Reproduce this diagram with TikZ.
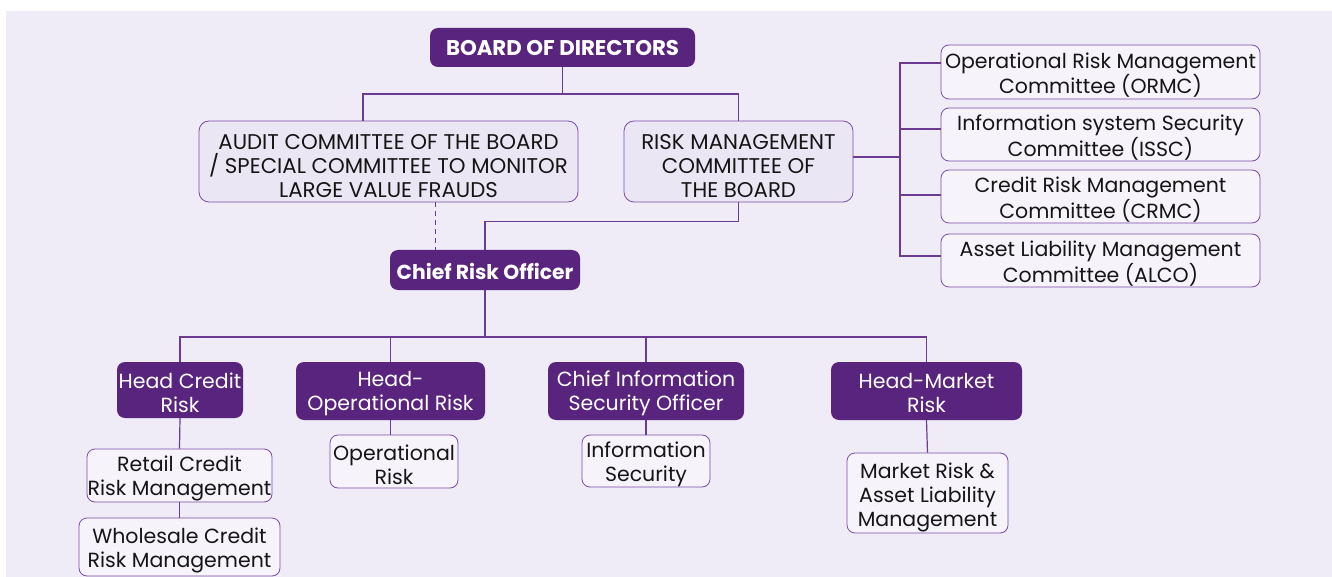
\documentclass[tikz,border=0pt]{standalone}
\usepackage{fontspec}
\setmainfont{Poppins}
\definecolor{bgl}{HTML}{F0ECF7}
\definecolor{dpurple}{HTML}{58247E}
\definecolor{lfill}{HTML}{F6F3FB}
\definecolor{cfill}{HTML}{EBE6F3}
\definecolor{bstroke}{HTML}{7A4CA5}
\definecolor{lcol}{HTML}{6B3A95}
\definecolor{txt}{HTML}{151515}
\begin{document}
\begin{tikzpicture}[x=1pt,y=-1pt,
  every node/.style={inner sep=0pt, align=center, font=\fontsize{20.5}{24}\selectfont},
  darkbox/.style={fill=dpurple, draw=none, rounded corners=8pt},
  lightbox/.style={fill=lfill, draw=bstroke, line width=0.8pt, rounded corners=8pt},
  combox/.style={fill=cfill, draw=bstroke, line width=0.8pt, rounded corners=10pt},
  wtext/.style={text=white},
  btext/.style={text=txt},
  capstext/.style={text=txt, font=\fontsize{21.3}{24}\selectfont},
  boldtext/.style={text=white, font=\fontsize{21.3}{24}\selectfont\bfseries},
  conn/.style={draw=lcol, line width=1.2pt},
  dconn/.style={draw=lcol, line width=1pt, dash pattern=on 5pt off 4pt}]
\useasboundingbox (0,0) rectangle (1332,577);
\fill[white] (0,0) rectangle (1332,577);
\fill[bgl] (6,11) rectangle (1332,577);

% top
\node[darkbox, minimum width=265pt, minimum height=39pt] (board) at (562.5,47.5) {};
\node[boldtext] (board-t) at ([yshift=-0.5pt]board.center) {BOARD OF DIRECTORS};
\node[combox, minimum width=379pt, minimum height=81pt] (audit) at (388.5,161.5) {};
\node[capstext] (audit-t) at ([yshift=-5pt]audit.center) {AUDIT COMMITTEE OF THE BOARD\\/ SPECIAL COMMITTEE TO MONITOR\\LARGE VALUE FRAUDS};
\node[combox, minimum width=229pt, minimum height=81pt] (risk) at (738.5,161.5) {};
\node[capstext] (risk-t) at ([yshift=-5pt]risk.center) {RISK MANAGEMENT\\COMMITTEE OF\\THE BOARD};

% committees
\node[lightbox, minimum width=319pt, minimum height=54pt] (ormc) at (1100.5,72) {};
\node[btext] (ormc-t) at ([yshift=-3pt]ormc.center) {Operational Risk Management\\Committee (ORMC)};
\node[lightbox, minimum width=319pt, minimum height=53pt] (issc) at (1100.5,134.5) {};
\node[btext] (issc-t) at ([yshift=-3pt]issc.center) {Information system Security\\Committee (ISSC)};
\node[lightbox, minimum width=319pt, minimum height=53pt] (crmc) at (1100.5,196.5) {};
\node[btext] (crmc-t) at ([yshift=-3pt]crmc.center) {Credit Risk Management\\Committee (CRMC)};
\node[lightbox, minimum width=319pt, minimum height=53pt] (alco) at (1100.5,260.5) {};
\node[btext] (alco-t) at ([yshift=-3pt]alco.center) {Asset Liability Management\\Committee (ALCO)};

% CRO
\node[darkbox, minimum width=190pt, minimum height=40pt] (cro) at (485,270) {};
\node[boldtext, font=\fontsize{20.3}{24}\selectfont\bfseries] (cro-t) at ([yshift=-1pt]cro.center) {Chief Risk Officer};

% heads
\node[darkbox, minimum width=126pt, minimum height=56pt] (hcr) at (180,390) {};
\node[wtext] (hcr-t) at ([yshift=-2.5pt]hcr.center) {Head Credit\\Risk};
\node[darkbox, minimum width=189pt, minimum height=58pt] (hor) at (390.5,391) {};
\node[wtext] (hor-t) at ([yshift=-2.5pt]hor.center) {Head-\\Operational Risk};
\node[darkbox, minimum width=196pt, minimum height=58pt] (ciso) at (646,391) {};
\node[wtext] (ciso-t) at ([yshift=-2.5pt]ciso.center) {Chief Information\\Security Officer};
\node[darkbox, minimum width=191pt, minimum height=58pt] (hmr) at (926.5,391) {};
\node[wtext] (hmr-t) at ([yshift=-2.5pt]hmr.center) {Head-Market\\Risk};

% children
\node[lightbox, minimum width=185pt, minimum height=53pt] (retail) at (179.5,475.5) {};
\node[btext] (retail-t) at ([yshift=-2.5pt]retail.center) {Retail Credit\\Risk Management};
\node[lightbox, minimum width=201pt, minimum height=58pt] (whole) at (179.5,547) {};
\node[btext] (whole-t) at ([yshift=-3pt]whole.center) {Wholesale Credit\\Risk Management};
\node[lightbox, minimum width=128pt, minimum height=53pt] (oprisk) at (394,461.5) {};
\node[btext] (oprisk-t) at ([yshift=-3pt]oprisk.center) {Operational\\Risk};
\node[lightbox, minimum width=128pt, minimum height=52pt] (infosec) at (646,461) {};
\node[btext] (infosec-t) at ([yshift=-3pt]infosec.center) {Information\\Security};
\node[lightbox, minimum width=161pt, minimum height=80pt] (mkt) at (927.5,493) {};
\node[btext] (mkt-t) at ([yshift=-4pt]mkt.center) {Market Risk \&\\Asset Liability\\Management};

% connectors
\coordinate (j1) at (562.5,94);
\draw[conn] (board.south) -- (j1);
\draw[conn] ([xshift=-25.5pt]audit.north) |- (j1) -| (risk.north);

\coordinate (sp) at (900,157);
\draw[conn] ([yshift=4.5pt]risk.east) -- (sp);
\draw[conn] ([yshift=9pt]ormc.west) -| (sp) |- ([yshift=4.5pt]alco.west);
\draw[conn] ([yshift=5.5pt]issc.west) -- ++(-41,0);
\draw[conn] ([yshift=1.5pt]crmc.west) -- ++(-41,0);

\draw[dconn] ([xshift=47pt]audit.south) -- ([xshift=-49.5pt]cro.north);
\draw[conn] (risk.south) -- ++(0,19) -| (cro.north);

\coordinate (j2) at (485,337);
\draw[conn] (cro.south) -- (j2);
\draw[conn] (hcr.north) |- (j2) -| (hmr.north);
\draw[conn] (hor.north) -- ++(0,-25);
\draw[conn] (ciso.north) -- ++(0,-25);

\draw[conn] (hcr.south) -- (retail.north);
\draw[conn] (retail.south) -- (whole.north);
\draw[conn] (hor.south) -- ([xshift=-3.5pt]oprisk.north);
\draw[conn] (ciso.south) -- (infosec.north);
\draw[conn] (hmr.south) -- (mkt.north);
\end{tikzpicture}
\end{document}
